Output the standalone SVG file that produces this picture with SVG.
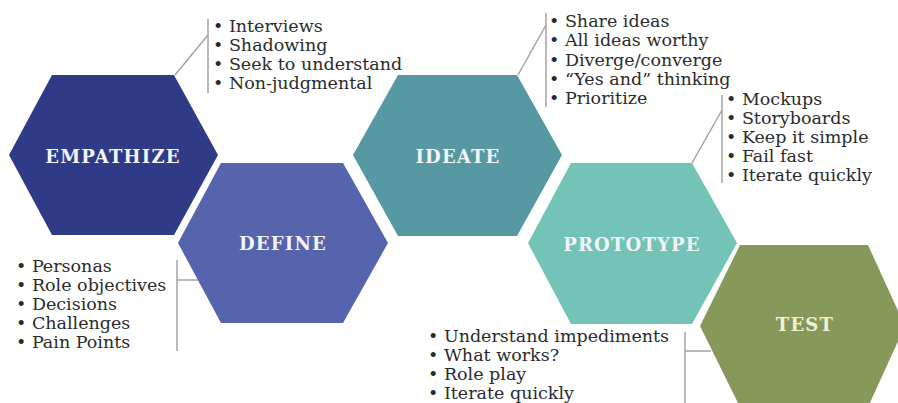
<svg xmlns="http://www.w3.org/2000/svg" width="898" height="403" viewBox="0 0 898 403">
  <style>
    .hex-label { font-family: "DejaVu Serif", "Liberation Serif", serif; font-weight: bold; font-size: 18px; letter-spacing: 1.2px; fill: #f4f4f8; text-anchor: middle; }
    .list { font-family: "DejaVu Serif", "Liberation Serif", serif; font-size: 17.5px; fill: #2b2b2b; }
    .conn { stroke: #a3a3a3; stroke-width: 1.5; fill: none; }
  </style>
  <rect width="898" height="403" fill="#ffffff"/>

  <!-- connector lines from hexagons to their bullet lists -->
  <g id="connectors">
    <polyline class="conn" points="175,75 208,35"/>
    <line class="conn" x1="208" y1="19" x2="208" y2="93"/>
    <line class="conn" x1="177" y1="260" x2="177" y2="351"/>
    <line class="conn" x1="177" y1="280" x2="198" y2="280"/>
    <polyline class="conn" points="518,75 546,25"/>
    <line class="conn" x1="546" y1="13" x2="546" y2="107"/>
    <polyline class="conn" points="692,163 722,110"/>
    <line class="conn" x1="722" y1="95" x2="722" y2="183"/>
    <line class="conn" x1="685" y1="332" x2="685" y2="403"/>
    <line class="conn" x1="685" y1="351" x2="711" y2="351"/>
  </g>

  <g id="empathize">
    <polygon points="9,155 52,75 174,75 218,155 174,235 52,235" fill="#2f3b87"/>
    <text class="hex-label" x="113" y="163">EMPATHIZE</text>
  </g>

  <g id="define">
    <polygon points="178,243 221,163 343,163 388,243 343,323 221,323" fill="#5664ae"/>
    <text class="hex-label" x="283" y="250">DEFINE</text>
  </g>

  <g id="ideate">
    <polygon points="353,155 398,75 517,75 562,155 517,236 398,236" fill="#5799a3"/>
    <text class="hex-label" x="458" y="163">IDEATE</text>
  </g>

  <g id="prototype">
    <polygon points="528,243 571,163 692,163 737,243 692,324 571,324" fill="#73c3b7"/>
    <text class="hex-label" x="632" y="251">PROTOTYPE</text>
  </g>

  <g id="test">
    <polygon points="700,326 740,245 868,245 905,326 868,407 740,407" fill="#87985b"/>
    <text class="hex-label" x="805" y="331" style="fill:#f3f1d6">TEST</text>
  </g>

  <!-- bullet lists -->
  <g id="empathize-notes" class="list">
    <text x="213" y="32">• Interviews</text>
    <text x="213" y="51">• Shadowing</text>
    <text x="213" y="70">• Seek to understand</text>
    <text x="213" y="89">• Non-judgmental</text>
  </g>

  <g id="define-notes" class="list">
    <text x="16" y="272">• Personas</text>
    <text x="16" y="291">• Role objectives</text>
    <text x="16" y="310">• Decisions</text>
    <text x="16" y="329">• Challenges</text>
    <text x="16" y="348">• Pain Points</text>
  </g>

  <g id="ideate-notes" class="list">
    <text x="549" y="27">• Share ideas</text>
    <text x="549" y="46">• All ideas worthy</text>
    <text x="549" y="66">• Diverge/converge</text>
    <text x="549" y="85">• “Yes and” thinking</text>
    <text x="549" y="104">• Prioritize</text>
  </g>

  <g id="prototype-notes" class="list">
    <text x="726" y="105">• Mockups</text>
    <text x="726" y="124">• Storyboards</text>
    <text x="726" y="143">• Keep it simple</text>
    <text x="726" y="162">• Fail fast</text>
    <text x="726" y="181">• Iterate quickly</text>
  </g>

  <g id="test-notes" class="list">
    <text x="428" y="342">• Understand impediments</text>
    <text x="428" y="361">• What works?</text>
    <text x="428" y="380">• Role play</text>
    <text x="428" y="399">• Iterate quickly</text>
  </g>
</svg>
